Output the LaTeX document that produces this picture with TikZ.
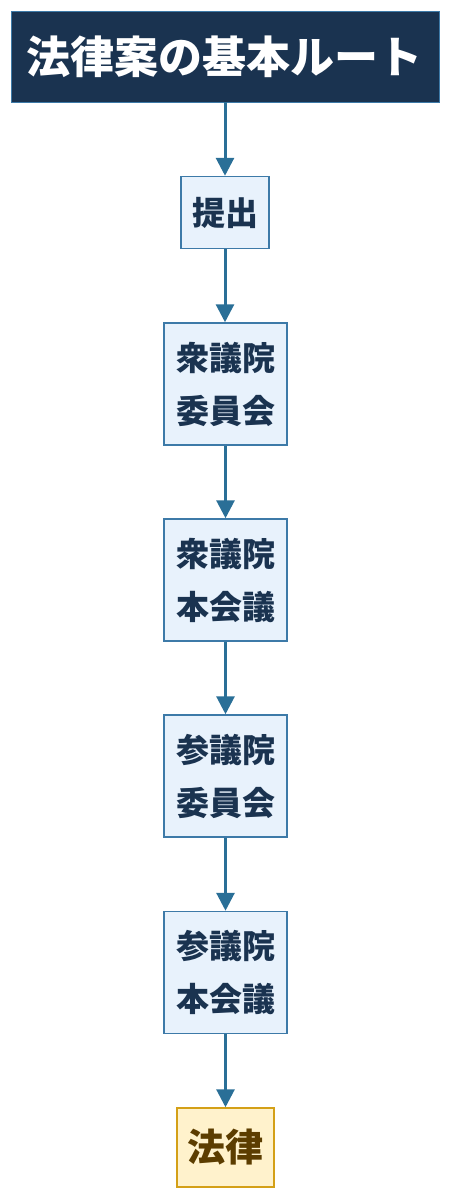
\documentclass[tikz,border=0pt]{standalone}
\usepackage{fontspec}
\setmainfont{Noto Sans CJK JP}
\usetikzlibrary{arrows.meta}
\definecolor{navy}{HTML}{1A3350}
\definecolor{boxfill}{HTML}{E8F2FC}
\definecolor{boxline}{HTML}{3D7AA8}
\definecolor{arrowc}{HTML}{2A6F97}
\definecolor{lawfill}{HTML}{FFF2CC}
\definecolor{lawline}{HTML}{D4A017}
\definecolor{lawtext}{HTML}{5C3D00}
\tikzset{
  titlebox/.style={rectangle, fill=navy, draw=boxline, line width=0.8pt, text=white,
    font=\fontsize{44}{52}\selectfont\bfseries, inner sep=0pt},
  stepbox/.style={rectangle, fill=boxfill, draw=boxline, line width=1.5pt, text=navy,
    font=\fontsize{33}{53}\selectfont\bfseries, align=center, inner sep=0pt},
  lawbox/.style={rectangle, fill=lawfill, draw=lawline, line width=1.5pt, text=lawtext,
    font=\fontsize{38}{52}\selectfont\bfseries, align=center, inner sep=0pt},
  flow/.style={draw=arrowc, line width=3pt, -{Triangle[length=18pt,width=18pt]}, shorten >=0pt}
}
\begin{document}
\begin{tikzpicture}[x=1pt,y=-1pt]
\useasboundingbox (0,0) rectangle (451,1200);
\node[titlebox, minimum width=428pt, minimum height=91pt] (title) at (225,56.5) {法律案の基本ルート};
\node[stepbox, minimum width=88pt, minimum height=72pt] (s1) at (225,212.5) {提出};
\node[stepbox, minimum width=123pt, minimum height=122pt] (s2) at (225.5,384) {衆議院\\委員会};
\node[stepbox, minimum width=123pt, minimum height=122pt] (s3) at (225.5,580) {衆議院\\本会議};
\node[stepbox, minimum width=123pt, minimum height=122pt] (s4) at (225.5,776) {参議院\\委員会};
\node[stepbox, minimum width=123pt, minimum height=122pt] (s5) at (225.5,972.5) {参議院\\本会議};
\node[lawbox, minimum width=97pt, minimum height=79pt] (law) at (225.5,1147.5) {法律};
\draw[flow] (title.south) -- (title.south |- s1.north);
\draw[flow] (s1.south) -- (s1.south |- s2.north);
\draw[flow] (s2.south) -- (s3.north);
\draw[flow] (s3.south) -- (s4.north);
\draw[flow] (s4.south) -- (s5.north);
\draw[flow] (s5.south) -- (law.north);
\end{tikzpicture}
\end{document}
